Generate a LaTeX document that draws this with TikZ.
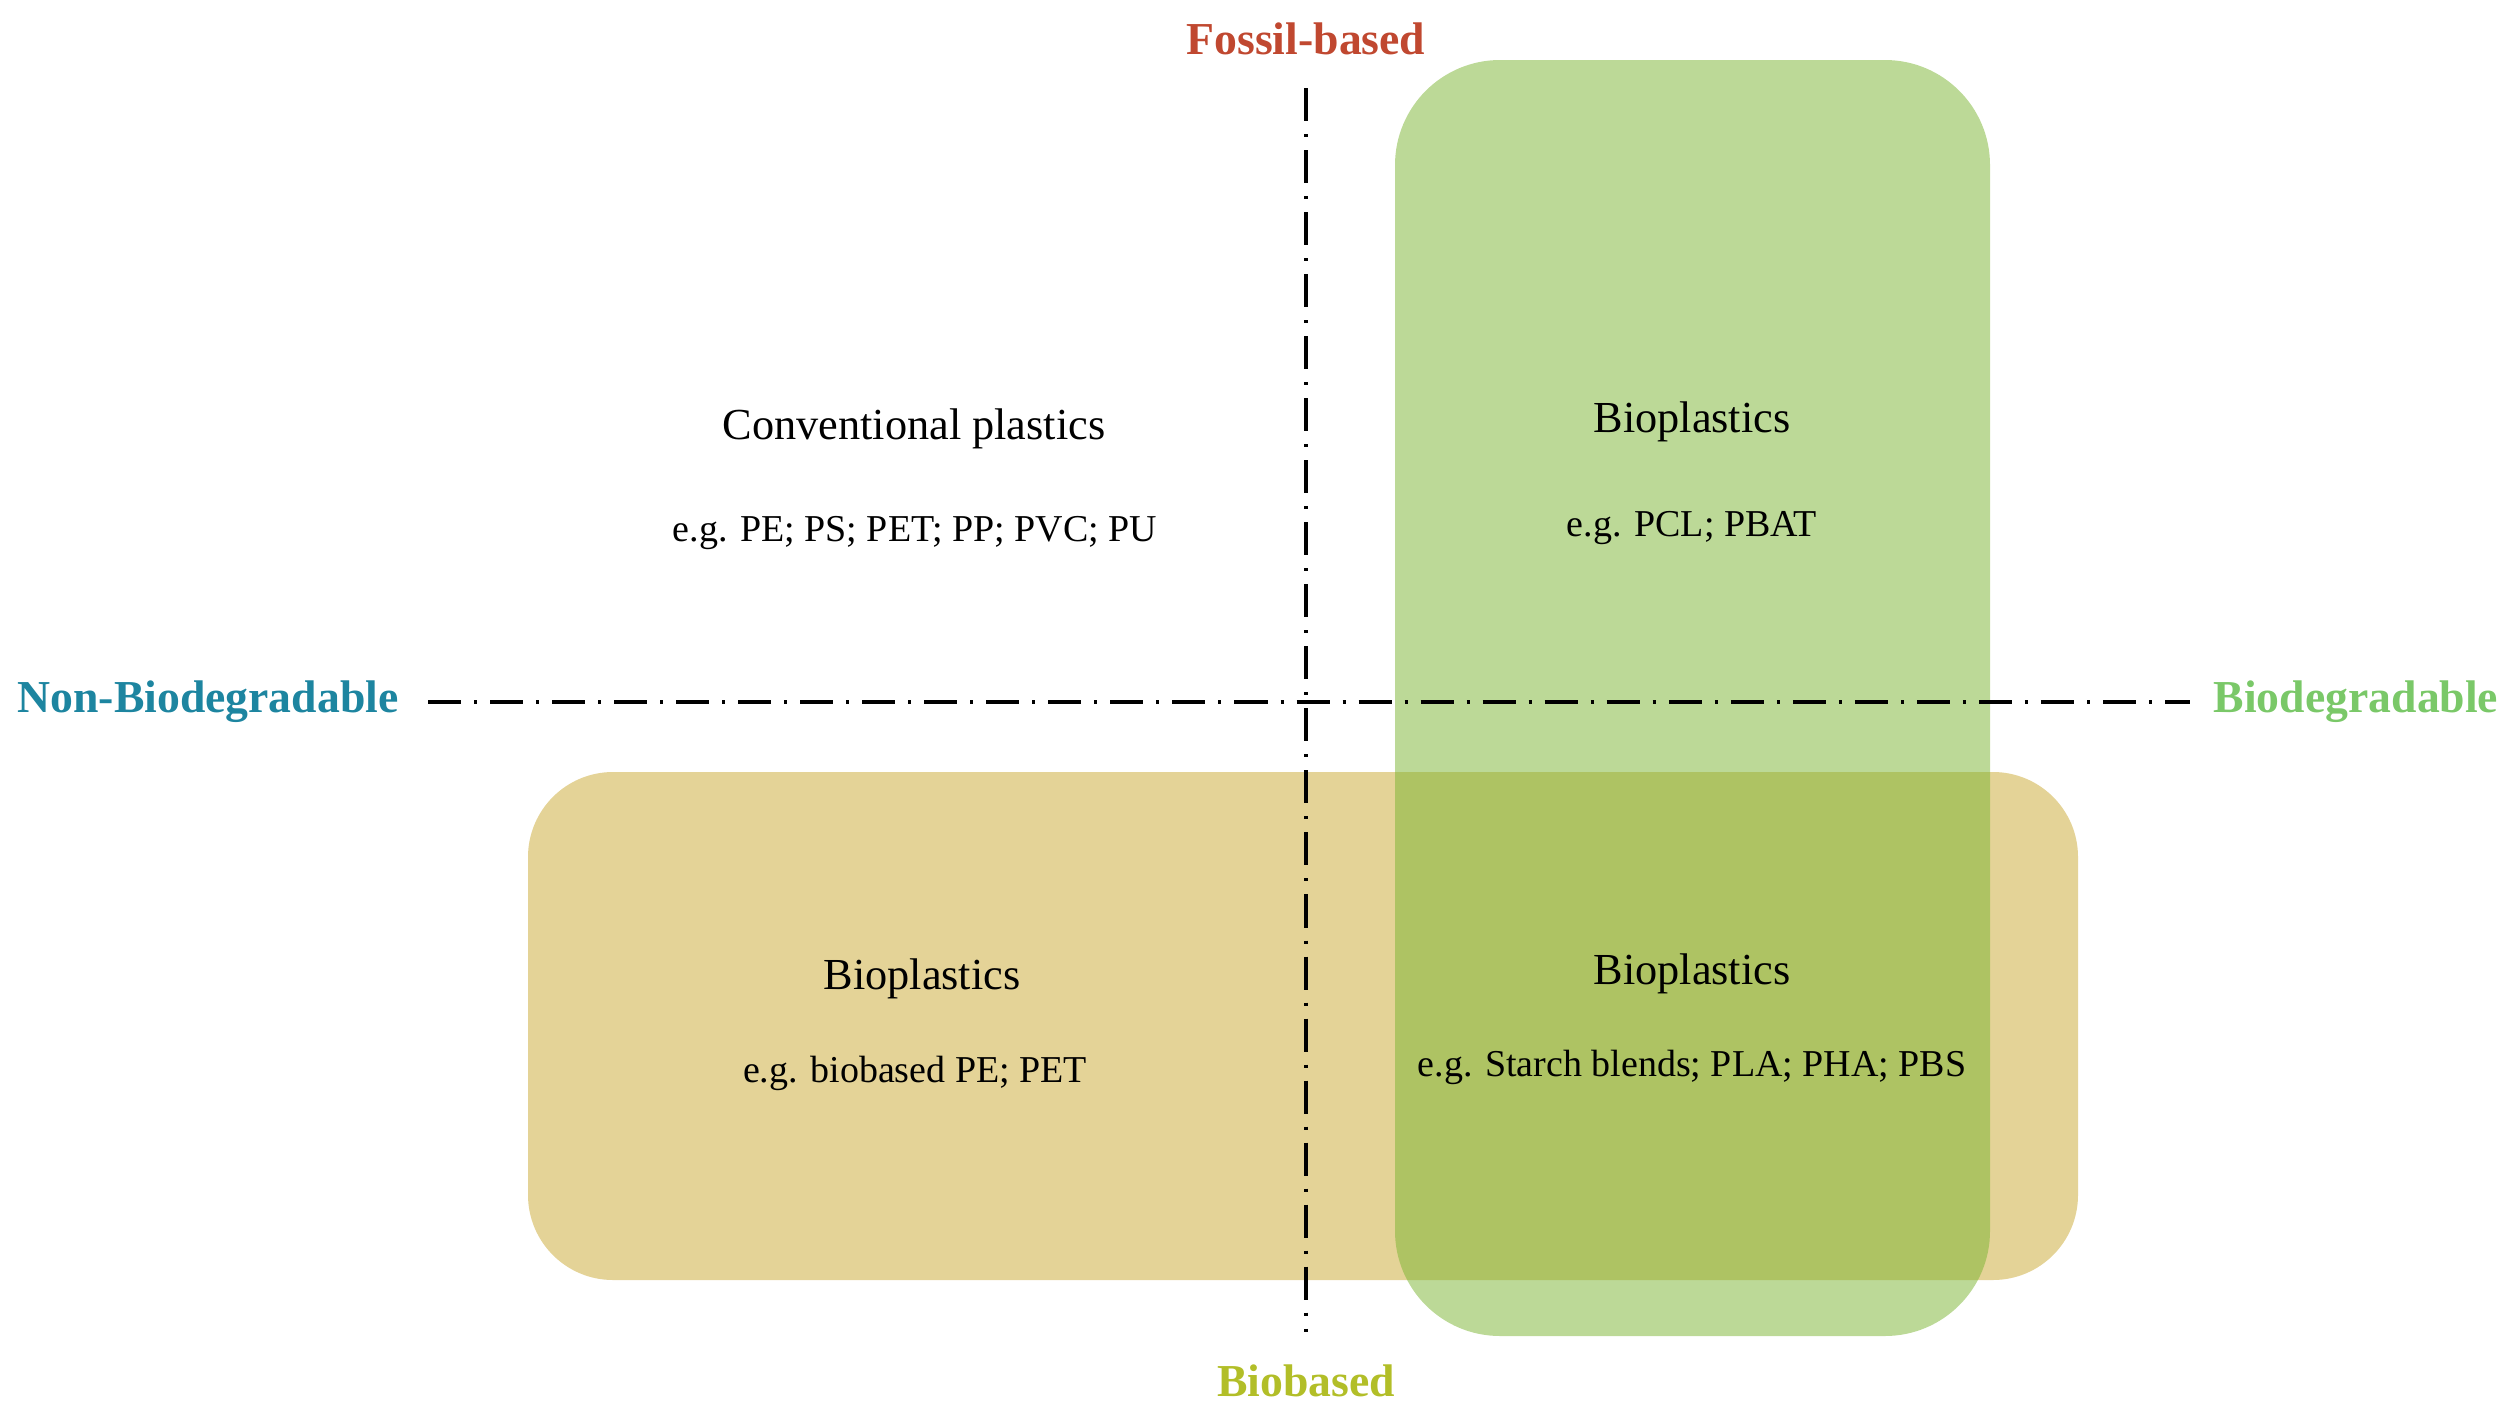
\documentclass[tikz,border=0pt]{standalone}
\usepackage{fontspec}
\setmainfont{Liberation Serif}
\definecolor{tanfill}{RGB}{228,211,151}
\definecolor{greenbase}{RGB}{122,180,48}
\definecolor{fossilred}{RGB}{192,72,48}
\definecolor{nonbioteal}{RGB}{29,133,160}
\definecolor{biogreen}{RGB}{122,200,104}
\definecolor{biobasedyel}{RGB}{178,190,40}
\tikzset{
  axisline/.style={line width=0.9pt, black, dash pattern=on 0.33cm off 0.13cm on 0.03cm off 0.13cm},
  axislabel/.style={font=\fontsize{13}{15}\selectfont\bfseries, inner sep=0pt},
  titletext/.style={font=\fontsize{12.6}{15}\selectfont, inner sep=0pt},
  egtext/.style={font=\fontsize{10.8}{13}\selectfont, inner sep=0pt},
}
\begin{document}
\begin{tikzpicture}[x=0.01cm, y=-0.01cm]
\useasboundingbox (0,0) rectangle (2500,1403);
% shapes
\fill[tanfill, rounded corners=0.85cm] (528,772) rectangle (2078,1280);
\fill[greenbase, fill opacity=0.5, rounded corners=1.05cm] (1395,60) rectangle (1990,1336);
% axis end points
\coordinate (vtop) at (1306,88);
\coordinate (vbot) at (1306,1332);
\coordinate (hleft) at (428,702);
\coordinate (hright) at (2190,702);
\draw[axisline] (vtop) -- (vbot);
\draw[axisline] (hleft) -- (hright);
% axis labels
\node[axislabel, text=fossilred] (fossil) at (1306,39) {Fossil-based};
\node[axislabel, text=biobasedyel] (biobased) at (1306,1381) {Biobased};
\node[axislabel, text=nonbioteal] (nonbio) at (208,702) {Non-Biodegradable};
\node[axislabel, text=biogreen] (bio) at (2356,702) {Biodegradable};
% quadrant texts
\node[titletext] (conv) at (914,429) {Conventional plastics};
\node[egtext] (conveg) at (915,533) {e.g. PE; PS; PET; PP; PVC; PU};
\node[titletext] (bioTR) at (1692,422) {Bioplastics};
\node[egtext] (bioTReg) at (1692,528) {e.g. PCL; PBAT};
\node[titletext] (bioBL) at (922,979) {Bioplastics};
\node[egtext] (bioBLeg) at (915,1073) {e.g. biobased PE; PET};
\node[titletext] (bioBR) at (1692,974) {Bioplastics};
\node[egtext] (bioBReg) at (1692,1067) {e.g. Starch blends; PLA; PHA; PBS};
\end{tikzpicture}
\end{document}
